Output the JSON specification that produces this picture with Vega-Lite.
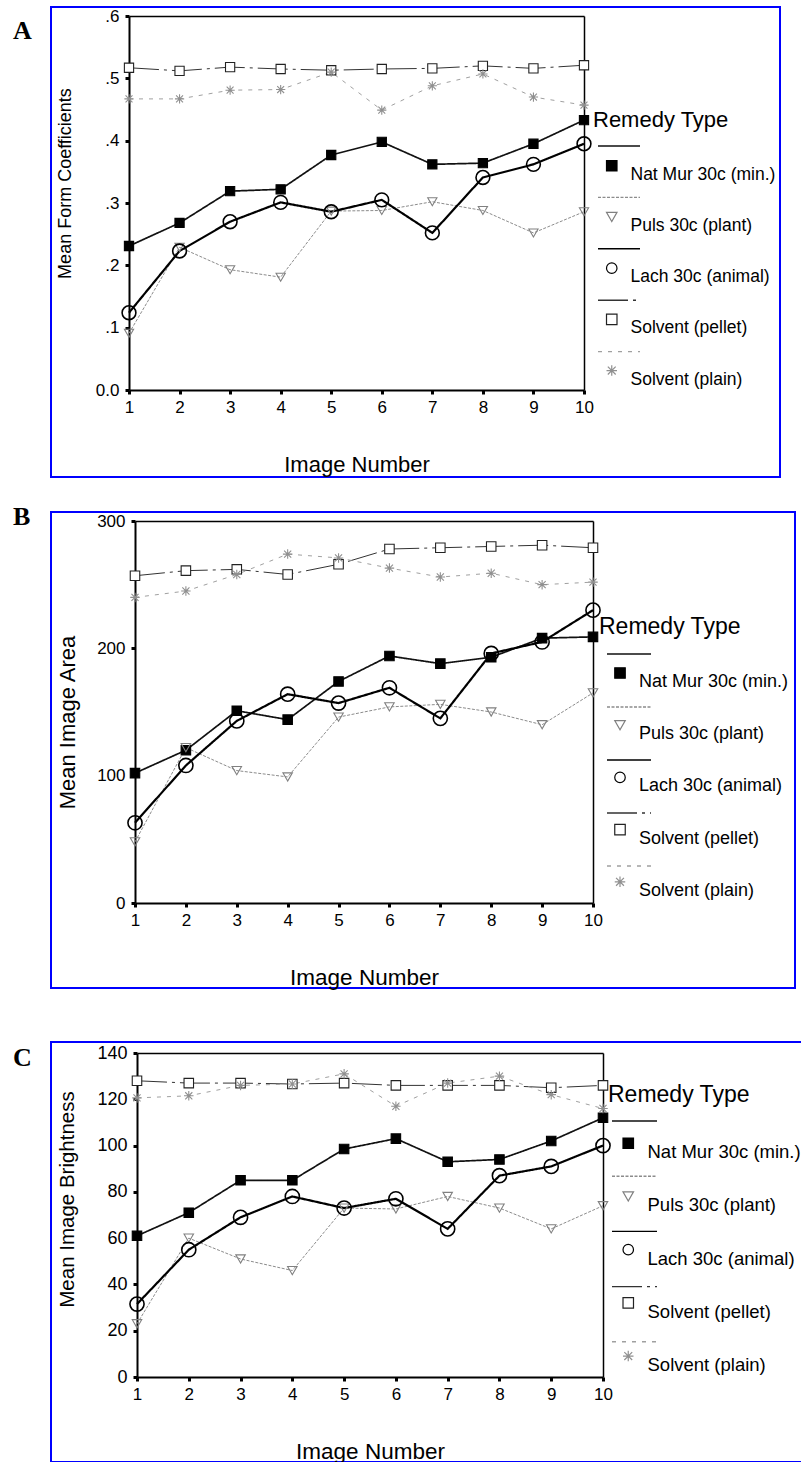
{
  "$schema": "https://vega.github.io/schema/vega-lite/v6.json",
  "padding": {"left": 12, "top": 6, "right": 0, "bottom": 0},
  "background": "white",
  "config": {
    "view": {"stroke": "#0000ff", "strokeWidth": 2},
    "font": "Liberation Sans",
    "axis": {"domainColor": "#000", "domainWidth": 2, "tickColor": "#000", "labelColor": "#000", "titleColor": "#000", "grid": false, "labelFontSize": 17, "titleFontWeight": "normal", "labelFlush": false, "labelOverlap": false, "labelFont": "Liberation Sans", "titleFont": "Liberation Sans"},
    "legend": {"labelColor": "#000", "titleColor": "#000", "labelFont": "Liberation Sans", "titleFont": "Liberation Sans"},
    "title": {"color": "#000"}
  },
  "datasets": {
    "A": [
      {"image": 1, "remedy": "Nat Mur 30c (min.)", "line": "NM", "value": 0.231},
      {"image": 2, "remedy": "Nat Mur 30c (min.)", "line": "NM", "value": 0.268},
      {"image": 3, "remedy": "Nat Mur 30c (min.)", "line": "NM", "value": 0.319},
      {"image": 4, "remedy": "Nat Mur 30c (min.)", "line": "NM", "value": 0.322},
      {"image": 5, "remedy": "Nat Mur 30c (min.)", "line": "NM", "value": 0.377},
      {"image": 6, "remedy": "Nat Mur 30c (min.)", "line": "NM", "value": 0.398},
      {"image": 7, "remedy": "Nat Mur 30c (min.)", "line": "NM", "value": 0.362},
      {"image": 8, "remedy": "Nat Mur 30c (min.)", "line": "NM", "value": 0.364},
      {"image": 9, "remedy": "Nat Mur 30c (min.)", "line": "NM", "value": 0.395},
      {"image": 10, "remedy": "Nat Mur 30c (min.)", "line": "NM", "value": 0.433},
      {"image": 1, "remedy": "Puls 30c (plant)", "line": "PU", "value": 0.091},
      {"image": 2, "remedy": "Puls 30c (plant)", "line": "PU", "value": 0.229},
      {"image": 3, "remedy": "Puls 30c (plant)", "line": "PU", "value": 0.193},
      {"image": 4, "remedy": "Puls 30c (plant)", "line": "PU", "value": 0.181},
      {"image": 5, "remedy": "Puls 30c (plant)", "line": "PU", "value": 0.287},
      {"image": 6, "remedy": "Puls 30c (plant)", "line": "PU", "value": 0.288},
      {"image": 7, "remedy": "Puls 30c (plant)", "line": "PU", "value": 0.302},
      {"image": 8, "remedy": "Puls 30c (plant)", "line": "PU", "value": 0.288},
      {"image": 9, "remedy": "Puls 30c (plant)", "line": "PU", "value": 0.252},
      {"image": 10, "remedy": "Puls 30c (plant)", "line": "PU", "value": 0.286},
      {"image": 1, "remedy": "Lach 30c (animal)", "line": "LA", "value": 0.124},
      {"image": 2, "remedy": "Lach 30c (animal)", "line": "LA", "value": 0.223},
      {"image": 3, "remedy": "Lach 30c (animal)", "line": "LA", "value": 0.270},
      {"image": 4, "remedy": "Lach 30c (animal)", "line": "LA", "value": 0.301},
      {"image": 5, "remedy": "Lach 30c (animal)", "line": "LA", "value": 0.286},
      {"image": 6, "remedy": "Lach 30c (animal)", "line": "LA", "value": 0.305},
      {"image": 7, "remedy": "Lach 30c (animal)", "line": "LA", "value": 0.252},
      {"image": 8, "remedy": "Lach 30c (animal)", "line": "LA", "value": 0.341},
      {"image": 9, "remedy": "Lach 30c (animal)", "line": "LA", "value": 0.362},
      {"image": 10, "remedy": "Lach 30c (animal)", "line": "LA", "value": 0.395},
      {"image": 1, "remedy": "Solvent (pellet)", "line": "SP", "value": 0.517},
      {"image": 2, "remedy": "Solvent (pellet)", "line": "SP", "value": 0.512},
      {"image": 3, "remedy": "Solvent (pellet)", "line": "SP", "value": 0.518},
      {"image": 4, "remedy": "Solvent (pellet)", "line": "SP", "value": 0.515},
      {"image": 5, "remedy": "Solvent (pellet)", "line": "SP", "value": 0.513},
      {"image": 6, "remedy": "Solvent (pellet)", "line": "SP", "value": 0.515},
      {"image": 7, "remedy": "Solvent (pellet)", "line": "SP", "value": 0.516},
      {"image": 8, "remedy": "Solvent (pellet)", "line": "SP", "value": 0.520},
      {"image": 9, "remedy": "Solvent (pellet)", "line": "SP", "value": 0.516},
      {"image": 10, "remedy": "Solvent (pellet)", "line": "SP", "value": 0.521},
      {"image": 1, "remedy": "Solvent (plain)", "line": "SN", "value": 0.467},
      {"image": 2, "remedy": "Solvent (plain)", "line": "SN", "value": 0.467},
      {"image": 3, "remedy": "Solvent (plain)", "line": "SN", "value": 0.481},
      {"image": 4, "remedy": "Solvent (plain)", "line": "SN", "value": 0.482},
      {"image": 5, "remedy": "Solvent (plain)", "line": "SN", "value": 0.510},
      {"image": 6, "remedy": "Solvent (plain)", "line": "SN", "value": 0.449},
      {"image": 7, "remedy": "Solvent (plain)", "line": "SN", "value": 0.488},
      {"image": 8, "remedy": "Solvent (plain)", "line": "SN", "value": 0.507},
      {"image": 9, "remedy": "Solvent (plain)", "line": "SN", "value": 0.470},
      {"image": 10, "remedy": "Solvent (plain)", "line": "SN", "value": 0.457}
    ],
    "B": [
      {"image": 1, "remedy": "Nat Mur 30c (min.)", "line": "NM", "value": 102},
      {"image": 2, "remedy": "Nat Mur 30c (min.)", "line": "NM", "value": 120},
      {"image": 3, "remedy": "Nat Mur 30c (min.)", "line": "NM", "value": 151},
      {"image": 4, "remedy": "Nat Mur 30c (min.)", "line": "NM", "value": 144},
      {"image": 5, "remedy": "Nat Mur 30c (min.)", "line": "NM", "value": 174},
      {"image": 6, "remedy": "Nat Mur 30c (min.)", "line": "NM", "value": 194},
      {"image": 7, "remedy": "Nat Mur 30c (min.)", "line": "NM", "value": 188},
      {"image": 8, "remedy": "Nat Mur 30c (min.)", "line": "NM", "value": 193},
      {"image": 9, "remedy": "Nat Mur 30c (min.)", "line": "NM", "value": 208},
      {"image": 10, "remedy": "Nat Mur 30c (min.)", "line": "NM", "value": 209},
      {"image": 1, "remedy": "Puls 30c (plant)", "line": "PU", "value": 48},
      {"image": 2, "remedy": "Puls 30c (plant)", "line": "PU", "value": 122},
      {"image": 3, "remedy": "Puls 30c (plant)", "line": "PU", "value": 104},
      {"image": 4, "remedy": "Puls 30c (plant)", "line": "PU", "value": 99},
      {"image": 5, "remedy": "Puls 30c (plant)", "line": "PU", "value": 146},
      {"image": 6, "remedy": "Puls 30c (plant)", "line": "PU", "value": 154},
      {"image": 7, "remedy": "Puls 30c (plant)", "line": "PU", "value": 156},
      {"image": 8, "remedy": "Puls 30c (plant)", "line": "PU", "value": 150},
      {"image": 9, "remedy": "Puls 30c (plant)", "line": "PU", "value": 140},
      {"image": 10, "remedy": "Puls 30c (plant)", "line": "PU", "value": 165},
      {"image": 1, "remedy": "Lach 30c (animal)", "line": "LA", "value": 63},
      {"image": 2, "remedy": "Lach 30c (animal)", "line": "LA", "value": 108},
      {"image": 3, "remedy": "Lach 30c (animal)", "line": "LA", "value": 143},
      {"image": 4, "remedy": "Lach 30c (animal)", "line": "LA", "value": 164},
      {"image": 5, "remedy": "Lach 30c (animal)", "line": "LA", "value": 157},
      {"image": 6, "remedy": "Lach 30c (animal)", "line": "LA", "value": 169},
      {"image": 7, "remedy": "Lach 30c (animal)", "line": "LA", "value": 145},
      {"image": 8, "remedy": "Lach 30c (animal)", "line": "LA", "value": 196},
      {"image": 9, "remedy": "Lach 30c (animal)", "line": "LA", "value": 205},
      {"image": 10, "remedy": "Lach 30c (animal)", "line": "LA", "value": 230},
      {"image": 1, "remedy": "Solvent (pellet)", "line": "SP", "value": 257},
      {"image": 2, "remedy": "Solvent (pellet)", "line": "SP", "value": 261},
      {"image": 3, "remedy": "Solvent (pellet)", "line": "SP", "value": 262},
      {"image": 4, "remedy": "Solvent (pellet)", "line": "SP", "value": 258},
      {"image": 5, "remedy": "Solvent (pellet)", "line": "SP", "value": 266},
      {"image": 6, "remedy": "Solvent (pellet)", "line": "SP", "value": 278},
      {"image": 7, "remedy": "Solvent (pellet)", "line": "SP", "value": 279},
      {"image": 8, "remedy": "Solvent (pellet)", "line": "SP", "value": 280},
      {"image": 9, "remedy": "Solvent (pellet)", "line": "SP", "value": 281},
      {"image": 10, "remedy": "Solvent (pellet)", "line": "SP", "value": 279},
      {"image": 1, "remedy": "Solvent (plain)", "line": "SN", "value": 240},
      {"image": 2, "remedy": "Solvent (plain)", "line": "SN", "value": 245},
      {"image": 3, "remedy": "Solvent (plain)", "line": "SN", "value": 258},
      {"image": 4, "remedy": "Solvent (plain)", "line": "SN", "value": 274},
      {"image": 5, "remedy": "Solvent (plain)", "line": "SN", "value": 271},
      {"image": 6, "remedy": "Solvent (plain)", "line": "SN", "value": 263},
      {"image": 7, "remedy": "Solvent (plain)", "line": "SN", "value": 256},
      {"image": 8, "remedy": "Solvent (plain)", "line": "SN", "value": 259},
      {"image": 9, "remedy": "Solvent (plain)", "line": "SN", "value": 250},
      {"image": 10, "remedy": "Solvent (plain)", "line": "SN", "value": 252}
    ],
    "C": [
      {"image": 1, "remedy": "Nat Mur 30c (min.)", "line": "NM", "value": 61},
      {"image": 2, "remedy": "Nat Mur 30c (min.)", "line": "NM", "value": 71},
      {"image": 3, "remedy": "Nat Mur 30c (min.)", "line": "NM", "value": 85},
      {"image": 4, "remedy": "Nat Mur 30c (min.)", "line": "NM", "value": 85},
      {"image": 5, "remedy": "Nat Mur 30c (min.)", "line": "NM", "value": 98.5},
      {"image": 6, "remedy": "Nat Mur 30c (min.)", "line": "NM", "value": 103},
      {"image": 7, "remedy": "Nat Mur 30c (min.)", "line": "NM", "value": 93},
      {"image": 8, "remedy": "Nat Mur 30c (min.)", "line": "NM", "value": 94},
      {"image": 9, "remedy": "Nat Mur 30c (min.)", "line": "NM", "value": 102},
      {"image": 10, "remedy": "Nat Mur 30c (min.)", "line": "NM", "value": 112},
      {"image": 1, "remedy": "Puls 30c (plant)", "line": "PU", "value": 23},
      {"image": 2, "remedy": "Puls 30c (plant)", "line": "PU", "value": 60},
      {"image": 3, "remedy": "Puls 30c (plant)", "line": "PU", "value": 51},
      {"image": 4, "remedy": "Puls 30c (plant)", "line": "PU", "value": 46},
      {"image": 5, "remedy": "Puls 30c (plant)", "line": "PU", "value": 73},
      {"image": 6, "remedy": "Puls 30c (plant)", "line": "PU", "value": 72.6},
      {"image": 7, "remedy": "Puls 30c (plant)", "line": "PU", "value": 78},
      {"image": 8, "remedy": "Puls 30c (plant)", "line": "PU", "value": 73},
      {"image": 9, "remedy": "Puls 30c (plant)", "line": "PU", "value": 64},
      {"image": 10, "remedy": "Puls 30c (plant)", "line": "PU", "value": 74},
      {"image": 1, "remedy": "Lach 30c (animal)", "line": "LA", "value": 31.5},
      {"image": 2, "remedy": "Lach 30c (animal)", "line": "LA", "value": 55},
      {"image": 3, "remedy": "Lach 30c (animal)", "line": "LA", "value": 69},
      {"image": 4, "remedy": "Lach 30c (animal)", "line": "LA", "value": 78},
      {"image": 5, "remedy": "Lach 30c (animal)", "line": "LA", "value": 73},
      {"image": 6, "remedy": "Lach 30c (animal)", "line": "LA", "value": 77},
      {"image": 7, "remedy": "Lach 30c (animal)", "line": "LA", "value": 64},
      {"image": 8, "remedy": "Lach 30c (animal)", "line": "LA", "value": 87},
      {"image": 9, "remedy": "Lach 30c (animal)", "line": "LA", "value": 91},
      {"image": 10, "remedy": "Lach 30c (animal)", "line": "LA", "value": 100},
      {"image": 1, "remedy": "Solvent (pellet)", "line": "SP", "value": 128},
      {"image": 2, "remedy": "Solvent (pellet)", "line": "SP", "value": 127},
      {"image": 3, "remedy": "Solvent (pellet)", "line": "SP", "value": 127},
      {"image": 4, "remedy": "Solvent (pellet)", "line": "SP", "value": 126.6},
      {"image": 5, "remedy": "Solvent (pellet)", "line": "SP", "value": 127},
      {"image": 6, "remedy": "Solvent (pellet)", "line": "SP", "value": 126},
      {"image": 7, "remedy": "Solvent (pellet)", "line": "SP", "value": 126},
      {"image": 8, "remedy": "Solvent (pellet)", "line": "SP", "value": 126},
      {"image": 9, "remedy": "Solvent (pellet)", "line": "SP", "value": 125},
      {"image": 10, "remedy": "Solvent (pellet)", "line": "SP", "value": 126},
      {"image": 1, "remedy": "Solvent (plain)", "line": "SN", "value": 120.6},
      {"image": 2, "remedy": "Solvent (plain)", "line": "SN", "value": 121.5},
      {"image": 3, "remedy": "Solvent (plain)", "line": "SN", "value": 126},
      {"image": 4, "remedy": "Solvent (plain)", "line": "SN", "value": 126.6},
      {"image": 5, "remedy": "Solvent (plain)", "line": "SN", "value": 131},
      {"image": 6, "remedy": "Solvent (plain)", "line": "SN", "value": 117},
      {"image": 7, "remedy": "Solvent (plain)", "line": "SN", "value": 127},
      {"image": 8, "remedy": "Solvent (plain)", "line": "SN", "value": 130},
      {"image": 9, "remedy": "Solvent (plain)", "line": "SN", "value": 122},
      {"image": 10, "remedy": "Solvent (plain)", "line": "SN", "value": 116}
    ]
  },
  "vconcat": [
    {
      "spacing": 25,
      "resolve": {
        "scale": {"color": "independent", "strokeDash": "independent", "shape": "independent", "fill": "independent", "stroke": "independent"},
        "legend": {"color": "independent", "strokeDash": "independent", "shape": "independent", "fill": "independent", "stroke": "independent"}
      },
      "vconcat": [
        {
          "width": 729,
          "height": 470,
          "data": {"name": "A"},
          "title": {"text": "A", "anchor": "start", "frame": "group", "orient": "top", "offset": -58, "dx": -38, "baseline": "alphabetic", "font": "Liberation Serif", "fontWeight": "bold", "fontSize": 26},
          "resolve": {"axis": {"x": "independent", "y": "independent"}},
          "layer": [
            {
              "mark": {"type": "line"},
              "encoding": {
                "x": {"field": "image", "type": "quantitative", "scale": {"domain": [1, 10], "range": [78, 533], "nice": false, "zero": false},
                  "axis": {"orient": "bottom", "offset": -87, "values": [1, 2, 3, 4, 5, 6, 7, 8, 9, 10], "tickSize": 4, "tickWidth": 3, "labelPadding": 5, "title": "Image Number", "titleFontSize": 22, "titleX": 305.5, "titleY": 81, "titleBaseline": "alphabetic", "titleAlign": "center"}},
                "y": {"field": "value", "type": "quantitative", "scale": {"domain": [0, 0.6], "range": [383, 9], "nice": false, "zero": false},
                  "axis": {"orient": "left", "offset": -78, "values": [0, 0.1, 0.2, 0.3, 0.4, 0.5, 0.6], "labelExpr": "datum.value == 0 ? '0.0' : replace(format(datum.value, '.1f'), '0.', '.')", "tickSize": 4, "tickWidth": 3, "labelPadding": 6, "title": "Mean Form Coefficients", "titleFontSize": 18, "titleX": -64, "titleY": 176, "titleAngle": -90, "titleBaseline": "middle", "titleAlign": "center"}},
                "color": {"field": "line", "type": "nominal", "scale": {"domain": ["NM", "PU", "LA", "SP", "SN"], "range": ["#111111", "#8c8c8c", "#000000", "#333333", "#a0a0a0"]},
                  "legend": {"orient": "none", "legendX": 546, "legendY": 117, "title": null, "labelExpr": "''", "labelFontSize": 1, "symbolType": "stroke", "symbolSize": 1764, "symbolStrokeWidth": 1.4, "rowPadding": 26.4, "padding": 0}},
                "strokeDash": {"field": "line", "type": "nominal", "scale": {"domain": ["NM", "PU", "LA", "SP", "SN"], "range": [[1, 0], [3, 1.5], [1, 0], [30, 5, 3, 5], [4, 6]]},
                  "legend": {"orient": "none", "legendX": 546, "legendY": 117, "title": null, "labelExpr": "''", "labelFontSize": 1, "symbolType": "stroke", "symbolSize": 1764, "symbolStrokeWidth": 1.4, "rowPadding": 26.4, "padding": 0}},
                "strokeWidth": {"condition": [{"test": "datum.line == 'LA'", "value": 2.2}, {"test": "datum.line == 'NM'", "value": 1.7}], "value": 1}
              }
            },
            {
              "mark": {"type": "point", "opacity": 1, "filled": true},
              "encoding": {
                "x": {"field": "image", "type": "quantitative", "axis": {"orient": "top", "offset": -9, "labels": false, "ticks": false, "title": null, "domainWidth": 1.5}},
                "y": {"field": "value", "type": "quantitative", "axis": {"orient": "right", "offset": -196, "labels": false, "ticks": false, "title": null, "domainWidth": 1.5}},
                "shape": {"field": "remedy", "type": "nominal", "scale": {"domain": ["Nat Mur 30c (min.)", "Puls 30c (plant)", "Lach 30c (animal)", "Solvent (pellet)", "Solvent (plain)"], "range": ["square", "triangle-down", "circle", "square", "M-1,0L1,0M0,-1L0,1M-0.75,-0.75L0.75,0.75M-0.75,0.75L0.75,-0.75"]},
                  "legend": {"orient": "none", "legendX": 542, "legendY": 103, "title": "Remedy Type", "titleFontSize": 22, "titleFontWeight": "normal", "titlePadding": 25, "labelFontSize": 17.5, "labelBaseline": "top", "labelOffset": 10, "labelLimit": 300, "symbolOffset": 10, "symbolSize": 110, "symbolStrokeWidth": 1.2, "rowPadding": 24.2, "padding": 0}},
                "fill": {"field": "remedy", "type": "nominal", "scale": {"domain": ["Nat Mur 30c (min.)", "Puls 30c (plant)", "Lach 30c (animal)", "Solvent (pellet)", "Solvent (plain)"], "range": ["#000000", "transparent", "transparent", "#ffffff", "transparent"]},
                  "legend": {"orient": "none", "legendX": 542, "legendY": 103, "title": "Remedy Type", "titleFontSize": 22, "titleFontWeight": "normal", "titlePadding": 25, "labelFontSize": 17.5, "labelBaseline": "top", "labelOffset": 10, "labelLimit": 300, "symbolOffset": 10, "symbolSize": 110, "symbolStrokeWidth": 1.2, "rowPadding": 24.2, "padding": 0}},
                "stroke": {"field": "remedy", "type": "nominal", "scale": {"domain": ["Nat Mur 30c (min.)", "Puls 30c (plant)", "Lach 30c (animal)", "Solvent (pellet)", "Solvent (plain)"], "range": ["#000000", "#808080", "#000000", "#222222", "#909090"]},
                  "legend": {"orient": "none", "legendX": 542, "legendY": 103, "title": "Remedy Type", "titleFontSize": 22, "titleFontWeight": "normal", "titlePadding": 25, "labelFontSize": 17.5, "labelBaseline": "top", "labelOffset": 10, "labelLimit": 300, "symbolOffset": 10, "symbolSize": 110, "symbolStrokeWidth": 1.2, "rowPadding": 24.2, "padding": 0}},
                "size": {"condition": {"test": "datum.line == 'LA'", "value": 190}, "value": 85},
                "strokeWidth": {"condition": {"test": "datum.line == 'LA'", "value": 1.6}, "value": 1.1}
              }
            }
          ]
        },
        {
          "width": 744,
          "height": 476,
          "data": {"name": "B"},
          "title": {"text": "B", "anchor": "start", "frame": "group", "orient": "top", "offset": -39, "dx": -38, "baseline": "alphabetic", "font": "Liberation Serif", "fontWeight": "bold", "fontSize": 26},
          "resolve": {"axis": {"x": "independent", "y": "independent"}},
          "layer": [
            {
              "mark": {"type": "line"},
              "encoding": {
                "x": {"field": "image", "type": "quantitative", "scale": {"domain": [1, 10], "range": [84, 542], "nice": false, "zero": false},
                  "axis": {"orient": "bottom", "offset": -85, "values": [1, 2, 3, 4, 5, 6, 7, 8, 9, 10], "tickSize": 4, "tickWidth": 3, "labelPadding": 5, "title": "Image Number", "titleFontSize": 22.5, "titleX": 313, "titleY": 81, "titleBaseline": "alphabetic", "titleAlign": "center"}},
                "y": {"field": "value", "type": "quantitative", "scale": {"domain": [0, 300], "range": [391, 9], "nice": false, "zero": false},
                  "axis": {"orient": "left", "offset": -84, "values": [0, 100, 200, 300], "tickSize": 4, "tickWidth": 3, "labelPadding": 6, "title": "Mean Image Area", "titleFontSize": 22, "titleX": -68, "titleY": 210, "titleAngle": -90, "titleBaseline": "middle", "titleAlign": "center"}},
                "color": {"field": "line", "type": "nominal", "scale": {"domain": ["NM", "PU", "LA", "SP", "SN"], "range": ["#111111", "#8c8c8c", "#000000", "#333333", "#a0a0a0"]},
                  "legend": {"orient": "none", "legendX": 555, "legendY": 119, "title": null, "labelExpr": "''", "labelFontSize": 1, "symbolType": "stroke", "symbolSize": 1936, "symbolStrokeWidth": 1.4, "rowPadding": 27, "padding": 0}},
                "strokeDash": {"field": "line", "type": "nominal", "scale": {"domain": ["NM", "PU", "LA", "SP", "SN"], "range": [[1, 0], [3, 1.5], [1, 0], [30, 5, 3, 5], [4, 6]]},
                  "legend": {"orient": "none", "legendX": 555, "legendY": 119, "title": null, "labelExpr": "''", "labelFontSize": 1, "symbolType": "stroke", "symbolSize": 1936, "symbolStrokeWidth": 1.4, "rowPadding": 27, "padding": 0}},
                "strokeWidth": {"condition": [{"test": "datum.line == 'LA'", "value": 2.2}, {"test": "datum.line == 'NM'", "value": 1.7}], "value": 1}
              }
            },
            {
              "mark": {"type": "point", "opacity": 1, "filled": true},
              "encoding": {
                "x": {"field": "image", "type": "quantitative", "axis": {"orient": "top", "offset": -9, "labels": false, "ticks": false, "title": null, "domainWidth": 1.5}},
                "y": {"field": "value", "type": "quantitative", "axis": {"orient": "right", "offset": -202, "labels": false, "ticks": false, "title": null, "domainWidth": 1.5}},
                "shape": {"field": "remedy", "type": "nominal", "scale": {"domain": ["Nat Mur 30c (min.)", "Puls 30c (plant)", "Lach 30c (animal)", "Solvent (pellet)", "Solvent (plain)"], "range": ["square", "triangle-down", "circle", "square", "M-1,0L1,0M0,-1L0,1M-0.75,-0.75L0.75,0.75M-0.75,0.75L0.75,-0.75"]},
                  "legend": {"orient": "none", "legendX": 548, "legendY": 104, "title": "Remedy Type", "titleFontSize": 23, "titleFontWeight": "normal", "titlePadding": 25, "labelFontSize": 18, "labelBaseline": "top", "labelOffset": 10, "labelLimit": 300, "symbolOffset": 12, "symbolSize": 110, "symbolStrokeWidth": 1.2, "rowPadding": 25.2, "padding": 0}},
                "fill": {"field": "remedy", "type": "nominal", "scale": {"domain": ["Nat Mur 30c (min.)", "Puls 30c (plant)", "Lach 30c (animal)", "Solvent (pellet)", "Solvent (plain)"], "range": ["#000000", "transparent", "transparent", "#ffffff", "transparent"]},
                  "legend": {"orient": "none", "legendX": 548, "legendY": 104, "title": "Remedy Type", "titleFontSize": 23, "titleFontWeight": "normal", "titlePadding": 25, "labelFontSize": 18, "labelBaseline": "top", "labelOffset": 10, "labelLimit": 300, "symbolOffset": 12, "symbolSize": 110, "symbolStrokeWidth": 1.2, "rowPadding": 25.2, "padding": 0}},
                "stroke": {"field": "remedy", "type": "nominal", "scale": {"domain": ["Nat Mur 30c (min.)", "Puls 30c (plant)", "Lach 30c (animal)", "Solvent (pellet)", "Solvent (plain)"], "range": ["#000000", "#808080", "#000000", "#222222", "#909090"]},
                  "legend": {"orient": "none", "legendX": 548, "legendY": 104, "title": "Remedy Type", "titleFontSize": 23, "titleFontWeight": "normal", "titlePadding": 25, "labelFontSize": 18, "labelBaseline": "top", "labelOffset": 10, "labelLimit": 300, "symbolOffset": 12, "symbolSize": 110, "symbolStrokeWidth": 1.2, "rowPadding": 25.2, "padding": 0}},
                "size": {"condition": {"test": "datum.line == 'LA'", "value": 200}, "value": 90},
                "strokeWidth": {"condition": {"test": "datum.line == 'LA'", "value": 1.6}, "value": 1.1}
              }
            }
          ]
        }
      ]
    },
    {
      "width": 753,
      "height": 420,
      "data": {"name": "C"},
      "title": {"text": "C", "anchor": "start", "frame": "group", "orient": "top", "offset": -50, "dx": -38, "baseline": "alphabetic", "font": "Liberation Serif", "fontWeight": "bold", "fontSize": 26},
      "resolve": {"axis": {"x": "independent", "y": "independent"}},
      "layer": [
        {
          "mark": {"type": "line"},
          "encoding": {
            "x": {"field": "image", "type": "quantitative", "scale": {"domain": [1, 10], "range": [86, 552], "nice": false, "zero": false},
              "axis": {"orient": "bottom", "offset": -85, "values": [1, 2, 3, 4, 5, 6, 7, 8, 9, 10], "tickSize": 4, "tickWidth": 3, "labelPadding": 5, "title": "Image Number", "titleFontSize": 22.5, "titleX": 319, "titleY": 81, "titleBaseline": "alphabetic", "titleAlign": "center"}},
            "y": {"field": "value", "type": "quantitative", "scale": {"domain": [0, 140], "range": [335, 11], "nice": false, "zero": false},
              "axis": {"orient": "left", "offset": -86, "values": [0, 20, 40, 60, 80, 100, 120, 140], "tickSize": 4, "tickWidth": 3, "labelPadding": 6, "labelFontSize": 18, "title": "Mean Image Brightness", "titleFontSize": 20.5, "titleX": -70, "titleY": 157, "titleAngle": -90, "titleBaseline": "middle", "titleAlign": "center"}},
            "color": {"field": "line", "type": "nominal", "scale": {"domain": ["NM", "PU", "LA", "SP", "SN"], "range": ["#111111", "#8c8c8c", "#000000", "#333333", "#a0a0a0"]},
              "legend": {"orient": "none", "legendX": 560, "legendY": 55.5, "title": null, "labelExpr": "''", "labelFontSize": 1, "symbolType": "stroke", "symbolSize": 2025, "symbolStrokeWidth": 1.4, "rowPadding": 28.2, "padding": 0}},
            "strokeDash": {"field": "line", "type": "nominal", "scale": {"domain": ["NM", "PU", "LA", "SP", "SN"], "range": [[1, 0], [3, 1.5], [1, 0], [30, 5, 3, 5], [4, 6]]},
              "legend": {"orient": "none", "legendX": 560, "legendY": 55.5, "title": null, "labelExpr": "''", "labelFontSize": 1, "symbolType": "stroke", "symbolSize": 2025, "symbolStrokeWidth": 1.4, "rowPadding": 28.2, "padding": 0}},
            "strokeWidth": {"condition": [{"test": "datum.line == 'LA'", "value": 2.2}, {"test": "datum.line == 'NM'", "value": 1.7}], "value": 1}
          }
        },
        {
          "mark": {"type": "point", "opacity": 1, "filled": true},
          "encoding": {
            "x": {"field": "image", "type": "quantitative", "axis": {"orient": "top", "offset": -11, "labels": false, "ticks": false, "title": null, "domainWidth": 1.5}},
            "y": {"field": "value", "type": "quantitative", "axis": {"orient": "right", "offset": -201, "labels": false, "ticks": false, "title": null, "domainWidth": 1.5}},
            "shape": {"field": "remedy", "type": "nominal", "scale": {"domain": ["Nat Mur 30c (min.)", "Puls 30c (plant)", "Lach 30c (animal)", "Solvent (pellet)", "Solvent (plain)"], "range": ["square", "triangle-down", "circle", "square", "M-1,0L1,0M0,-1L0,1M-0.75,-0.75L0.75,0.75M-0.75,0.75L0.75,-0.75"]},
              "legend": {"orient": "none", "legendX": 557, "legendY": 42, "title": "Remedy Type", "titleFontSize": 23, "titleFontWeight": "normal", "titlePadding": 27, "labelFontSize": 18.5, "labelBaseline": "top", "labelOffset": 10, "labelLimit": 300, "symbolOffset": 11, "symbolSize": 110, "symbolStrokeWidth": 1.2, "rowPadding": 25.2, "padding": 0}},
            "fill": {"field": "remedy", "type": "nominal", "scale": {"domain": ["Nat Mur 30c (min.)", "Puls 30c (plant)", "Lach 30c (animal)", "Solvent (pellet)", "Solvent (plain)"], "range": ["#000000", "transparent", "transparent", "#ffffff", "transparent"]},
              "legend": {"orient": "none", "legendX": 557, "legendY": 42, "title": "Remedy Type", "titleFontSize": 23, "titleFontWeight": "normal", "titlePadding": 27, "labelFontSize": 18.5, "labelBaseline": "top", "labelOffset": 10, "labelLimit": 300, "symbolOffset": 11, "symbolSize": 110, "symbolStrokeWidth": 1.2, "rowPadding": 25.2, "padding": 0}},
            "stroke": {"field": "remedy", "type": "nominal", "scale": {"domain": ["Nat Mur 30c (min.)", "Puls 30c (plant)", "Lach 30c (animal)", "Solvent (pellet)", "Solvent (plain)"], "range": ["#000000", "#808080", "#000000", "#222222", "#909090"]},
              "legend": {"orient": "none", "legendX": 557, "legendY": 42, "title": "Remedy Type", "titleFontSize": 23, "titleFontWeight": "normal", "titlePadding": 27, "labelFontSize": 18.5, "labelBaseline": "top", "labelOffset": 10, "labelLimit": 300, "symbolOffset": 11, "symbolSize": 110, "symbolStrokeWidth": 1.2, "rowPadding": 25.2, "padding": 0}},
            "size": {"condition": {"test": "datum.line == 'LA'", "value": 200}, "value": 90},
            "strokeWidth": {"condition": {"test": "datum.line == 'LA'", "value": 1.6}, "value": 1.1}
          }
        }
      ]
    }
  ],
  "spacing": 51,
  "resolve": {
    "scale": {"color": "independent", "strokeDash": "independent", "shape": "independent", "fill": "independent", "stroke": "independent"},
    "legend": {"color": "independent", "strokeDash": "independent", "shape": "independent", "fill": "independent", "stroke": "independent"}
  }
}
